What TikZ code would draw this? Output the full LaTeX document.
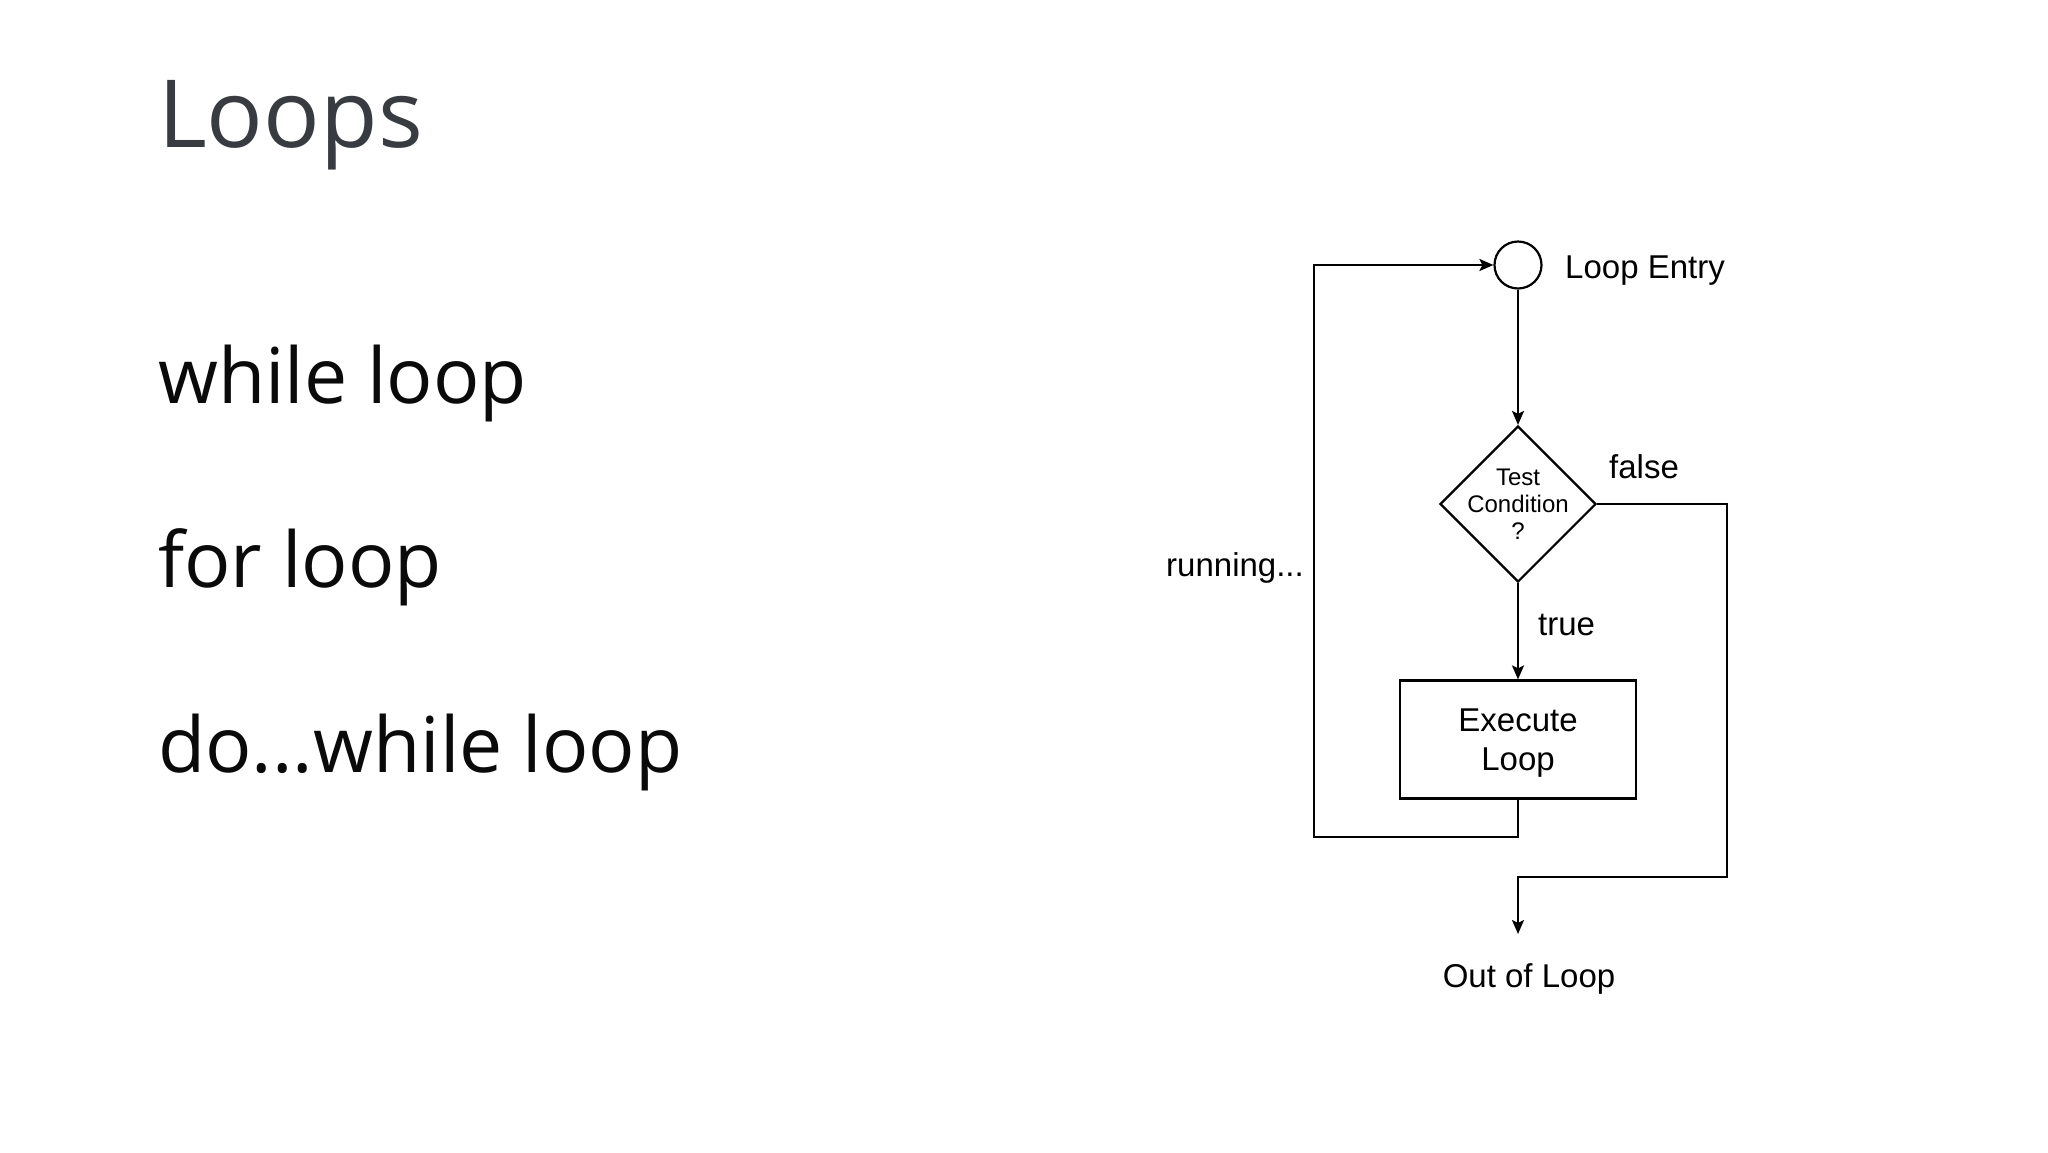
\documentclass[tikz,border=0pt]{standalone}
\usepackage{fontspec}
\setmainfont{Open Sans}
\newfontfamily\diag{Liberation Sans}
\usetikzlibrary{arrows.meta,shapes.geometric}
\definecolor{titlegray}{HTML}{383C40}
\definecolor{listblack}{HTML}{0A0A0A}
\begin{document}
\begin{tikzpicture}[x=1pt,y=-1pt,
  line/.style={draw=black,line width=2.2pt},
  arr/.style={line,-{Stealth[length=14pt,width=12pt,inset=3pt]}},
  lbl/.style={font=\diag\fontsize{33}{39}\selectfont,inner sep=0pt,text=black},
  slide/.style={anchor=base west,inner sep=0pt,text=listblack,font=\fontsize{77}{90}\selectfont},
]
\useasboundingbox[fill=white] (0,0) rectangle (2048,1152);
% slide text
\node[anchor=base west,inner sep=0pt,text=titlegray,font=\fontsize{94}{110}\selectfont] (title) at (158,147) {Loops};
\node[slide] (item1) at (158,403) {while loop};
\node[slide] (item2) at (158,587) {for loop};
\node[slide] (item3) at (158,772) {do...while loop};
% flowchart
\node[circle,line,minimum size=47pt,inner sep=0pt] (entry) at (1518,265) {};
\node[diamond,line,minimum width=156pt,minimum height=156pt,inner sep=0pt] (cond) at (1518,504) {};
\node[font=\diag\fontsize{24}{27}\selectfont,align=center,inner sep=0pt] (condtxt) at (cond.center) {Test\\Condition\\?};
\node[rectangle,line,lbl,align=center,text depth=0pt,minimum width=236pt,minimum height=118pt] (exec) at (1518,739.5) {Execute\\Loop};
\coordinate (loopBR) at (1518,837);
\coordinate (loopBL) at (1314,837);
\coordinate (loopTL) at (1314,265);
\coordinate (falseTR) at (1727,504);
\coordinate (falseBR) at (1727,877);
\coordinate (outtip) at (1518,934);
\draw[arr] (entry.south) -- (cond.north);
\draw[arr] (cond.south) -- (exec.north);
\draw[arr] (exec.south) -- (loopBR) -- (loopBL) -- (loopTL) -- (entry.west);
\draw[arr] (cond.east) -- (falseTR) -- (falseBR) -| (outtip);
% labels
\node[lbl,anchor=base west] (entrylbl) at (1565,278) {Loop Entry};
\node[lbl,anchor=base west] (falselbl) at (1609,478) {false};
\node[lbl,anchor=base east] (runlbl) at (1304,576) {running...};
\node[lbl,anchor=base west] (truelbl) at (1538,635) {true};
\node[lbl,anchor=base] (outlbl) at (1529,987) {Out of Loop};
\end{tikzpicture}
\end{document}
